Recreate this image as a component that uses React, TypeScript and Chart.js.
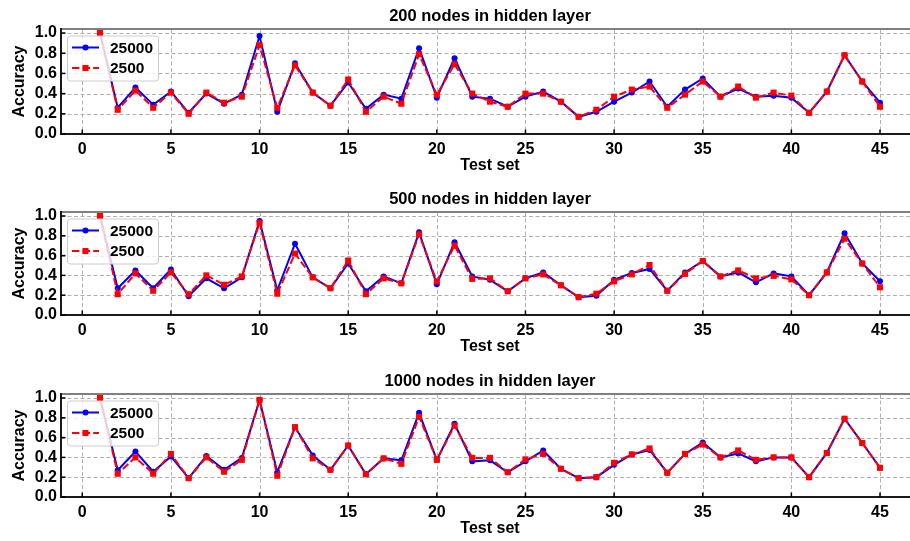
import { useEffect, useRef } from "react";
import { Chart, registerables } from "chart.js";

Chart.register(...registerables);

// Test set indices 1..45
const testSets = [
  1, 2, 3, 4, 5, 6, 7, 8, 9, 10, 11, 12, 13, 14, 15, 16, 17, 18, 19, 20, 21, 22, 23,
  24, 25, 26, 27, 28, 29, 30, 31, 32, 33, 34, 35, 36, 37, 38, 39, 40, 41, 42, 43, 44, 45,
];

const xTicks = [0, 5, 10, 15, 20, 25, 30, 35, 40, 45];
const yTicks = [0, 0.2, 0.4, 0.6, 0.8, 1.0];
const yTickLabels = ["0.0", "0.2", "0.4", "0.6", "0.8", "1.0"];
const seriesNames = ["25000", "2500"];
const panelTitles = [
  "200 nodes in hidden layer",
  "500 nodes in hidden layer",
  "1000 nodes in hidden layer",
];

// Accuracy per test set, 200 hidden nodes
const acc200Large = [
  1.0, 0.26, 0.46, 0.29, 0.42, 0.21, 0.4, 0.3, 0.39, 0.97, 0.22, 0.7, 0.41, 0.28, 0.51,
  0.25, 0.39, 0.35, 0.85, 0.36, 0.75, 0.37, 0.35, 0.27, 0.37, 0.42, 0.32, 0.17, 0.22, 0.32,
  0.41, 0.52, 0.27, 0.44, 0.55, 0.37, 0.45, 0.37, 0.38, 0.36, 0.21, 0.42, 0.78, 0.52, 0.31,
];
const acc200Small = [
  1.0, 0.24, 0.43, 0.26, 0.41, 0.2, 0.41, 0.31, 0.37, 0.88, 0.26, 0.68, 0.41, 0.28, 0.54,
  0.22, 0.37, 0.3, 0.79, 0.39, 0.69, 0.4, 0.32, 0.27, 0.4, 0.4, 0.32, 0.17, 0.24, 0.37,
  0.44, 0.47, 0.26, 0.39, 0.52, 0.37, 0.47, 0.36, 0.41, 0.38, 0.21, 0.42, 0.78, 0.52, 0.27,
];

// Accuracy per test set, 500 hidden nodes
const acc500Large = [
  1.0, 0.27, 0.45, 0.27, 0.46, 0.19, 0.37, 0.27, 0.38, 0.95, 0.25, 0.72, 0.38, 0.27, 0.52,
  0.24, 0.39, 0.32, 0.835, 0.31, 0.735, 0.39, 0.355, 0.24, 0.37, 0.43, 0.3, 0.18, 0.195, 0.355,
  0.425, 0.465, 0.245, 0.43, 0.545, 0.39, 0.43, 0.33, 0.42, 0.39, 0.2, 0.43, 0.825, 0.52, 0.34,
];
const acc500Small = [
  1.0, 0.21, 0.42, 0.245, 0.43, 0.21, 0.4, 0.305, 0.39, 0.93, 0.215, 0.62, 0.38, 0.27, 0.55,
  0.21, 0.37, 0.32, 0.815, 0.34, 0.7, 0.365, 0.37, 0.24, 0.37, 0.41, 0.3, 0.18, 0.215, 0.34,
  0.41, 0.505, 0.245, 0.415, 0.545, 0.39, 0.45, 0.37, 0.395, 0.36, 0.2, 0.43, 0.77, 0.52, 0.28,
];

// Accuracy per test set, 1000 hidden nodes
const acc1000Large = [
  1.0, 0.27, 0.46, 0.255, 0.41, 0.19, 0.415, 0.275, 0.395, 0.98, 0.25, 0.705, 0.42, 0.275, 0.52,
  0.23, 0.39, 0.37, 0.85, 0.375, 0.74, 0.36, 0.37, 0.25, 0.36, 0.47, 0.285, 0.19, 0.2, 0.325,
  0.43, 0.475, 0.245, 0.435, 0.55, 0.4, 0.44, 0.36, 0.4, 0.4, 0.2, 0.445, 0.79, 0.545, 0.295,
];
const acc1000Small = [
  1.0, 0.235, 0.4, 0.235, 0.435, 0.19, 0.4, 0.255, 0.375, 0.98, 0.215, 0.705, 0.39, 0.275, 0.52,
  0.23, 0.39, 0.335, 0.81, 0.375, 0.72, 0.395, 0.395, 0.25, 0.38, 0.435, 0.285, 0.19, 0.2, 0.345,
  0.43, 0.49, 0.245, 0.435, 0.53, 0.4, 0.47, 0.375, 0.4, 0.4, 0.2, 0.445, 0.79, 0.545, 0.295,
];

const FONT = "'Liberation Sans', Arial, Helvetica, sans-serif";
const BLUE = "#0000ff";
const RED = "#ff0000";
const RED_DASH = [7.4, 3.2];

const CANVAS_W = 940;
const CANVAS_H = 180;
const PAD_TOP = 29;
const AXIS_W = 61;
const PAD_RIGHT = 21;

function decorPlugin(title: string) {
  return {
    id: "panelDecor",
    beforeDatasetsDraw(chart: any) {
      const { ctx, chartArea: a, scales } = chart;
      const x = scales.x;
      const y = scales.y;
      ctx.save();
      ctx.strokeStyle = "#b0b0b0";
      ctx.lineWidth = 1;
      ctx.setLineDash([4, 2.5]);
      for (const v of xTicks) {
        const px = Math.round(x.getPixelForValue(v)) + 0.5;
        ctx.beginPath();
        ctx.moveTo(px, a.top);
        ctx.lineTo(px, a.bottom);
        ctx.stroke();
      }
      for (const v of yTicks) {
        if (v === 0) continue;
        const py = Math.round(y.getPixelForValue(v)) + 0.5;
        ctx.beginPath();
        ctx.moveTo(a.left, py);
        ctx.lineTo(a.right, py);
        ctx.stroke();
      }
      ctx.restore();
    },
    afterDatasetsDraw(chart: any) {
      const { ctx, chartArea: a, scales } = chart;
      const x = scales.x;
      const y = scales.y;
      ctx.save();

      // legend box (semi-transparent, drawn over the lines)
      const lx = a.left + 6.5;
      const ly = a.top + 7;
      const lw = 91;
      const lh = 45;
      ctx.beginPath();
      ctx.roundRect(lx, ly, lw, lh, 3);
      ctx.fillStyle = "rgba(255,255,255,0.8)";
      ctx.fill();
      ctx.strokeStyle = "#cccccc";
      ctx.lineWidth = 1;
      ctx.stroke();

      const rows = [
        { color: BLUE, dash: [] as number[], y: a.top + 18.5, marker: "circle" },
        { color: RED, dash: RED_DASH, y: a.top + 39, marker: "square" },
      ];
      rows.forEach((r, i) => {
        ctx.strokeStyle = r.color;
        ctx.fillStyle = r.color;
        ctx.lineWidth = 2;
        ctx.setLineDash(r.dash);
        ctx.beginPath();
        ctx.moveTo(a.left + 11, r.y);
        ctx.lineTo(a.left + 38, r.y);
        ctx.stroke();
        ctx.setLineDash([]);
        const cx = a.left + 24.5;
        if (r.marker === "circle") {
          ctx.beginPath();
          ctx.arc(cx, r.y, 3, 0, Math.PI * 2);
          ctx.fill();
        } else {
          ctx.fillRect(cx - 3, r.y - 3, 6, 6);
        }
        ctx.fillStyle = "#000";
        ctx.font = `bold 15.5px ${FONT}`;
        ctx.textAlign = "left";
        ctx.textBaseline = "middle";
        ctx.fillText(seriesNames[i], a.left + 49, r.y + 1);
      });

      // spines
      ctx.setLineDash([]);
      ctx.lineWidth = 2;
      ctx.strokeStyle = "#808080";
      ctx.beginPath();
      ctx.moveTo(a.left, a.top);
      ctx.lineTo(a.right, a.top);
      ctx.stroke();
      ctx.strokeStyle = "#1a1a1a";
      ctx.beginPath();
      ctx.moveTo(a.left, a.top - 1);
      ctx.lineTo(a.left, a.bottom);
      ctx.lineTo(a.right, a.bottom);
      ctx.stroke();

      // inward tick marks
      ctx.lineWidth = 1.5;
      ctx.strokeStyle = "#000";
      for (const v of xTicks) {
        const px = x.getPixelForValue(v);
        ctx.beginPath();
        ctx.moveTo(px, a.bottom);
        ctx.lineTo(px, a.bottom - 4.5);
        ctx.stroke();
      }
      for (const v of yTicks) {
        const py = y.getPixelForValue(v);
        ctx.beginPath();
        ctx.moveTo(a.left, py);
        ctx.lineTo(a.left + 4.5, py);
        ctx.stroke();
      }

      // title and axis labels
      ctx.fillStyle = "#000";
      ctx.textAlign = "center";
      ctx.textBaseline = "middle";
      ctx.font = `bold 16.5px ${FONT}`;
      const cx = (a.left + a.right) / 2;
      ctx.fillText(title, cx, a.top - 13);
      ctx.font = `bold 16px ${FONT}`;
      ctx.fillText("Test set", cx, a.bottom + 32);
      ctx.translate(20, (a.top + a.bottom) / 2);
      ctx.rotate(-Math.PI / 2);
      ctx.fillText("Accuracy", 0, 0);
      ctx.restore();
    },
  };
}

type PanelProps = {
  title: string;
  large: number[];
  small: number[];
  plotTop: number;
  plotBottom: number;
};

function Panel({ title, large, small, plotTop, plotBottom }: PanelProps) {
  const ref = useRef<HTMLCanvasElement | null>(null);

  useEffect(() => {
    if (!ref.current) return;
    const plotH = plotBottom - plotTop;
    const tickFont = { family: FONT, size: 16, weight: "bold" as const };
    const chart = new Chart(ref.current, {
      type: "line",
      data: {
        datasets: [
          {
            label: seriesNames[0],
            data: testSets.map((t, i) => ({ x: t, y: large[i] })),
            borderColor: BLUE,
            backgroundColor: BLUE,
            borderWidth: 2,
            pointStyle: "circle",
            pointRadius: 3,
            pointBorderWidth: 0,
            pointBackgroundColor: BLUE,
            tension: 0,
            order: 1,
          },
          {
            label: seriesNames[1],
            data: testSets.map((t, i) => ({ x: t, y: small[i] })),
            borderColor: RED,
            backgroundColor: RED,
            borderWidth: 2,
            borderDash: RED_DASH,
            pointStyle: "rect",
            pointRadius: 4.3,
            pointBorderWidth: 0,
            pointBackgroundColor: RED,
            tension: 0,
            order: 0,
          },
        ],
      },
      options: {
        animation: false,
        responsive: false,
        devicePixelRatio: 1,
        events: [],
        layout: { padding: { left: 0, right: PAD_RIGHT, top: PAD_TOP, bottom: 0 } },
        plugins: {
          legend: { display: false },
          tooltip: { enabled: false },
          title: { display: false },
        },
        scales: {
          x: {
            type: "linear",
            min: -1.2,
            max: 47.2,
            grid: { display: false, drawTicks: false },
            border: { display: false },
            afterBuildTicks: (s: any) => {
              s.ticks = xTicks.map((v) => ({ value: v }));
            },
            afterFit: (s: any) => {
              s.height = CANVAS_H - PAD_TOP - plotH;
            },
            ticks: {
              color: "#000",
              font: tickFont,
              padding: 6,
              maxRotation: 0,
              autoSkip: false,
              callback: (v: any) => String(v),
            },
          },
          y: {
            type: "linear",
            min: 0,
            max: 1.04,
            grid: { display: false, drawTicks: false },
            border: { display: false },
            afterBuildTicks: (s: any) => {
              s.ticks = yTicks.map((v) => ({ value: v }));
            },
            afterFit: (s: any) => {
              s.width = AXIS_W;
            },
            ticks: {
              color: "#000",
              font: tickFont,
              padding: 4,
              autoSkip: false,
              callback: (v: any) => yTickLabels[yTicks.indexOf(Math.round(Number(v) * 10) / 10)] ?? "",
            },
          },
        },
      },
      plugins: [decorPlugin(title)],
    });
    return () => chart.destroy();
  }, [title, large, small, plotTop, plotBottom]);

  return (
    <canvas
      ref={ref}
      width={CANVAS_W}
      height={CANVAS_H}
      style={{
        position: "absolute",
        left: 0,
        top: plotTop - PAD_TOP,
        width: CANVAS_W,
        height: CANVAS_H,
        display: "block",
      }}
    />
  );
}

export default function App() {
  return (
    <div
      style={{
        position: "fixed",
        left: 0,
        top: 0,
        width: 910,
        height: 541,
        overflow: "hidden",
        background: "#fff",
      }}
    >
      <Panel title={panelTitles[0]} large={acc200Large} small={acc200Small} plotTop={29} plotBottom={134} />
      <Panel title={panelTitles[1]} large={acc500Large} small={acc500Small} plotTop={212} plotBottom={315} />
      <Panel title={panelTitles[2]} large={acc1000Large} small={acc1000Small} plotTop={394} plotBottom={497} />
    </div>
  );
}
